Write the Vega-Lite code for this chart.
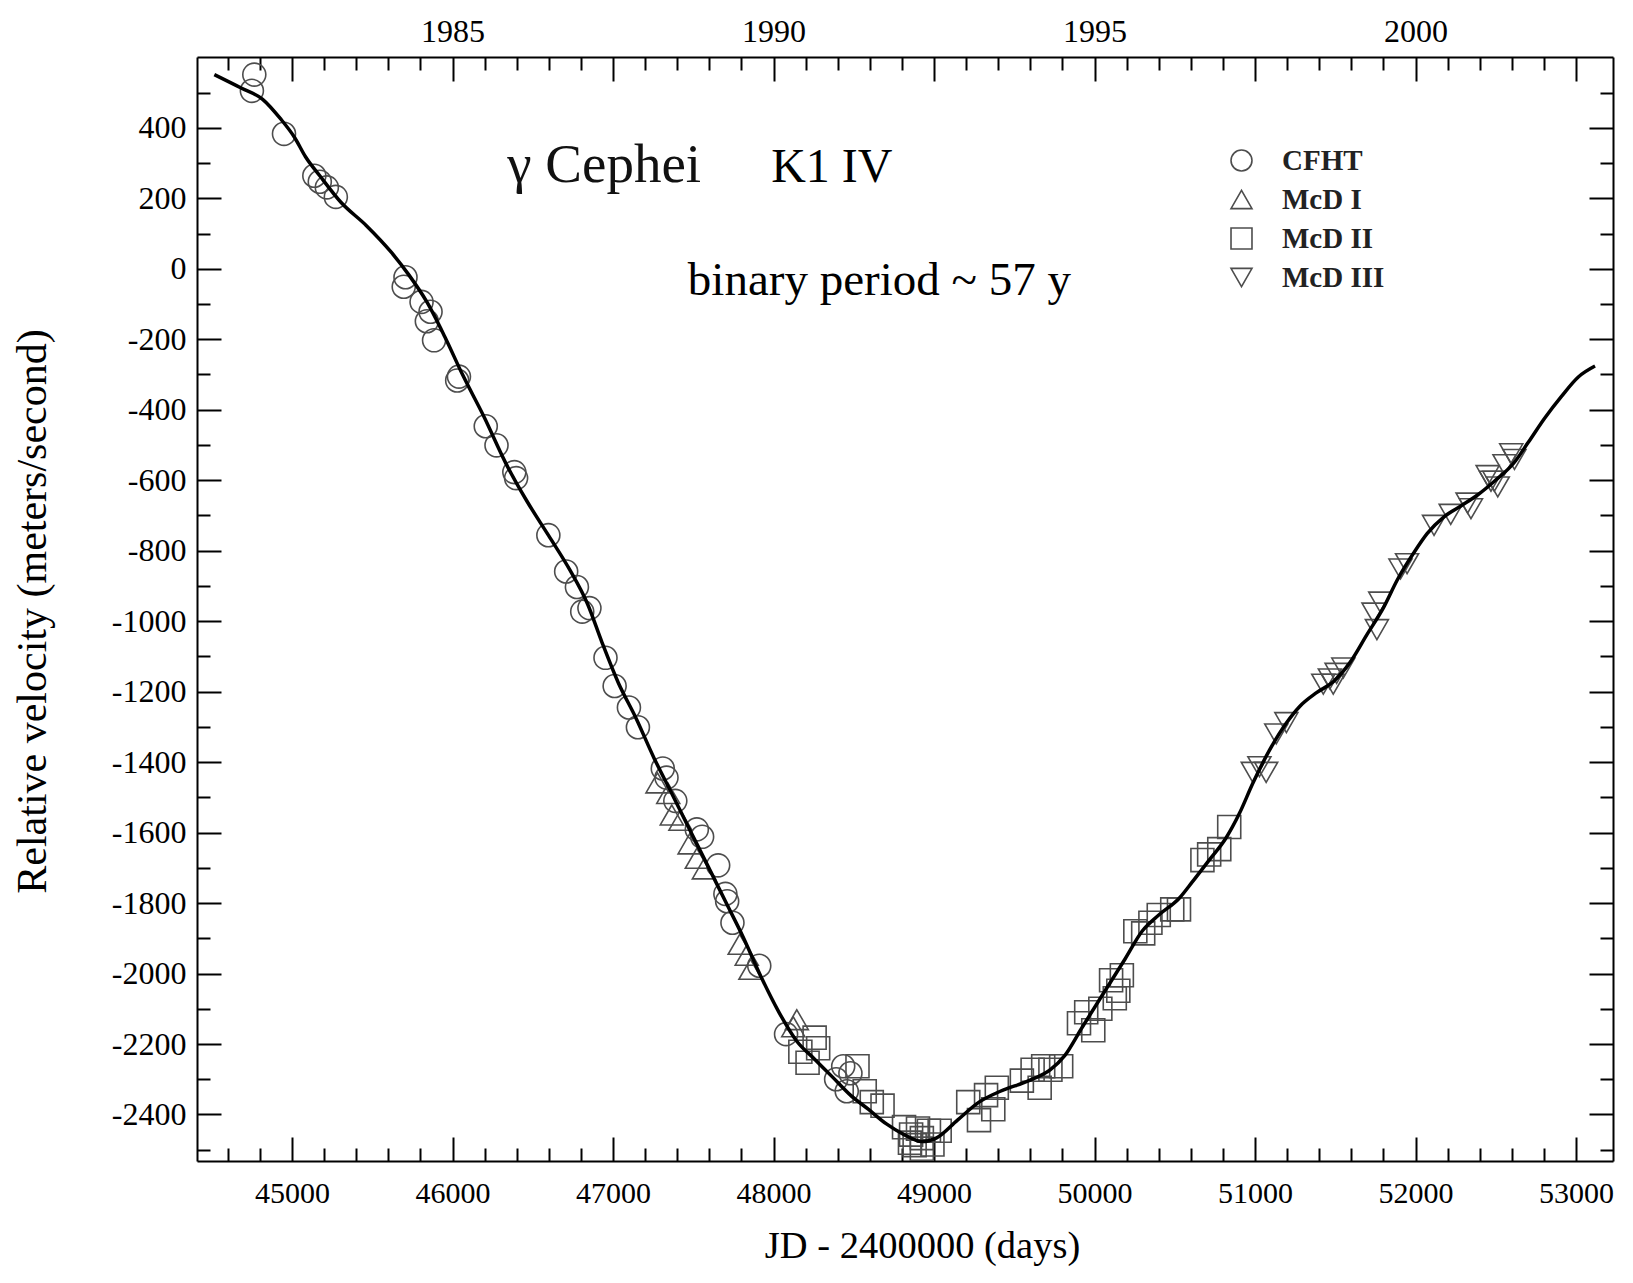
{
  "$schema": "https://vega.github.io/schema/vega-lite/v6.json",
  "width": 1416,
  "height": 1104,
  "autosize": {"type": "none"},
  "padding": {"left": 197, "top": 57, "right": 20, "bottom": 122},
  "background": "white",
  "config": {
    "view": {"stroke": null},
    "font": "Liberation Serif",
    "axis": {
      "domainColor": "black", "domainWidth": 2, "tickColor": "black", "tickWidth": 2,
      "labelColor": "black", "titleColor": "black", "grid": false,
      "labelFont": "Liberation Serif", "titleFont": "Liberation Serif", "titleFontWeight": "normal",
      "labelOverlap": false, "labelFlush": false
    }
  },
  "datasets": {
    "fit": [
      {"jd": 44516, "rv": 551}, {"jd": 44683, "rv": 513}, {"jd": 44817, "rv": 481}, {"jd": 44928, "rv": 426},
      {"jd": 45017, "rv": 372}, {"jd": 45084, "rv": 318}, {"jd": 45173, "rv": 264}, {"jd": 45306, "rv": 188},
      {"jd": 45462, "rv": 123}, {"jd": 45618, "rv": 47}, {"jd": 45729, "rv": -18}, {"jd": 45840, "rv": -94},
      {"jd": 45951, "rv": -192}, {"jd": 46063, "rv": -301}, {"jd": 46196, "rv": -420}, {"jd": 46330, "rv": -550},
      {"jd": 46463, "rv": -659}, {"jd": 46597, "rv": -756}, {"jd": 46730, "rv": -854}, {"jd": 46842, "rv": -952},
      {"jd": 46931, "rv": -1060}, {"jd": 47032, "rv": -1174}, {"jd": 47144, "rv": -1276}, {"jd": 47255, "rv": -1388},
      {"jd": 47366, "rv": -1489}, {"jd": 47477, "rv": -1591}, {"jd": 47589, "rv": -1693}, {"jd": 47700, "rv": -1795},
      {"jd": 47811, "rv": -1897}, {"jd": 47922, "rv": -2009}, {"jd": 48034, "rv": -2110}, {"jd": 48145, "rv": -2192},
      {"jd": 48256, "rv": -2243}, {"jd": 48368, "rv": -2294}, {"jd": 48479, "rv": -2345}, {"jd": 48590, "rv": -2385},
      {"jd": 48701, "rv": -2426}, {"jd": 48813, "rv": -2457}, {"jd": 48924, "rv": -2477}, {"jd": 49013, "rv": -2467},
      {"jd": 49146, "rv": -2416}, {"jd": 49280, "rv": -2365}, {"jd": 49413, "rv": -2334}, {"jd": 49591, "rv": -2304},
      {"jd": 49725, "rv": -2273}, {"jd": 49814, "rv": -2233}, {"jd": 49925, "rv": -2151}, {"jd": 50036, "rv": -2070},
      {"jd": 50191, "rv": -1958}, {"jd": 50296, "rv": -1880}, {"jd": 50400, "rv": -1834}, {"jd": 50526, "rv": -1787},
      {"jd": 50609, "rv": -1740}, {"jd": 50714, "rv": -1678}, {"jd": 50818, "rv": -1616}, {"jd": 50902, "rv": -1546},
      {"jd": 50986, "rv": -1460}, {"jd": 51090, "rv": -1366}, {"jd": 51195, "rv": -1289}, {"jd": 51278, "rv": -1242},
      {"jd": 51383, "rv": -1203}, {"jd": 51487, "rv": -1172}, {"jd": 51592, "rv": -1117}, {"jd": 51696, "rv": -1039},
      {"jd": 51801, "rv": -961}, {"jd": 51885, "rv": -884}, {"jd": 51989, "rv": -806}, {"jd": 52073, "rv": -751},
      {"jd": 52177, "rv": -704}, {"jd": 52282, "rv": -673}, {"jd": 52386, "rv": -642}, {"jd": 52491, "rv": -603},
      {"jd": 52616, "rv": -549}, {"jd": 52700, "rv": -494}, {"jd": 52804, "rv": -424}, {"jd": 52909, "rv": -362},
      {"jd": 53014, "rv": -307}, {"jd": 53118, "rv": -276}
    ],
    "obs": [
      {"set": "CFHT", "jd": 44765, "rv": 551}, {"set": "CFHT", "jd": 44750, "rv": 505}, {"set": "CFHT", "jd": 44950, "rv": 383},
      {"set": "CFHT", "jd": 45139, "rv": 264}, {"set": "CFHT", "jd": 45173, "rv": 247}, {"set": "CFHT", "jd": 45217, "rv": 231},
      {"set": "CFHT", "jd": 45273, "rv": 204}, {"set": "CFHT", "jd": 45707, "rv": -24}, {"set": "CFHT", "jd": 45696, "rv": -51},
      {"set": "CFHT", "jd": 45807, "rv": -94}, {"set": "CFHT", "jd": 45863, "rv": -122}, {"set": "CFHT", "jd": 45840, "rv": -149},
      {"set": "CFHT", "jd": 45885, "rv": -203}, {"set": "CFHT", "jd": 46040, "rv": -306}, {"set": "CFHT", "jd": 46029, "rv": -317},
      {"set": "CFHT", "jd": 46207, "rv": -447}, {"set": "CFHT", "jd": 46274, "rv": -501}, {"set": "CFHT", "jd": 46385, "rv": -577},
      {"set": "CFHT", "jd": 46396, "rv": -594}, {"set": "CFHT", "jd": 46597, "rv": -756}, {"set": "CFHT", "jd": 46708, "rv": -859},
      {"set": "CFHT", "jd": 46775, "rv": -903}, {"set": "CFHT", "jd": 46853, "rv": -963}, {"set": "CFHT", "jd": 46808, "rv": -973},
      {"set": "CFHT", "jd": 46953, "rv": -1104}, {"set": "CFHT", "jd": 47010, "rv": -1184}, {"set": "CFHT", "jd": 47099, "rv": -1245},
      {"set": "CFHT", "jd": 47155, "rv": -1301}, {"set": "CFHT", "jd": 47310, "rv": -1418}, {"set": "CFHT", "jd": 47333, "rv": -1444},
      {"set": "CFHT", "jd": 47388, "rv": -1510}, {"set": "CFHT", "jd": 47522, "rv": -1591}, {"set": "CFHT", "jd": 47555, "rv": -1612},
      {"set": "CFHT", "jd": 47655, "rv": -1693}, {"set": "CFHT", "jd": 47700, "rv": -1774}, {"set": "CFHT", "jd": 47711, "rv": -1795},
      {"set": "CFHT", "jd": 47744, "rv": -1856}, {"set": "CFHT", "jd": 47911, "rv": -1978}, {"set": "CFHT", "jd": 48078, "rv": -2172},
      {"set": "CFHT", "jd": 48434, "rv": -2263}, {"set": "CFHT", "jd": 48479, "rv": -2283}, {"set": "CFHT", "jd": 48456, "rv": -2334},
      {"set": "CFHT", "jd": 48390, "rv": -2300},
      {"set": "McD I", "jd": 47277, "rv": -1459}, {"set": "McD I", "jd": 47344, "rv": -1489}, {"set": "McD I", "jd": 47366, "rv": -1550},
      {"set": "McD I", "jd": 47420, "rv": -1565}, {"set": "McD I", "jd": 47477, "rv": -1632}, {"set": "McD I", "jd": 47522, "rv": -1673},
      {"set": "McD I", "jd": 47566, "rv": -1703}, {"set": "McD I", "jd": 47789, "rv": -1917}, {"set": "McD I", "jd": 47833, "rv": -1948},
      {"set": "McD I", "jd": 47856, "rv": -1988}, {"set": "McD I", "jd": 48145, "rv": -2131}, {"set": "McD I", "jd": 48123, "rv": -2151},
      {"set": "McD II", "jd": 48256, "rv": -2182}, {"set": "McD II", "jd": 48278, "rv": -2212}, {"set": "McD II", "jd": 48167, "rv": -2222},
      {"set": "McD II", "jd": 48212, "rv": -2253}, {"set": "McD II", "jd": 48523, "rv": -2263}, {"set": "McD II", "jd": 48568, "rv": -2334},
      {"set": "McD II", "jd": 48612, "rv": -2365}, {"set": "McD II", "jd": 48679, "rv": -2375}, {"set": "McD II", "jd": 48813, "rv": -2436},
      {"set": "McD II", "jd": 48857, "rv": -2457}, {"set": "McD II", "jd": 48924, "rv": -2467}, {"set": "McD II", "jd": 48968, "rv": -2446},
      {"set": "McD II", "jd": 48879, "rv": -2487}, {"set": "McD II", "jd": 49035, "rv": -2446}, {"set": "McD II", "jd": 48924, "rv": -2497},
      {"set": "McD II", "jd": 48850, "rv": -2480}, {"set": "McD II", "jd": 48990, "rv": -2485}, {"set": "McD II", "jd": 48900, "rv": -2440},
      {"set": "McD II", "jd": 49213, "rv": -2365}, {"set": "McD II", "jd": 49280, "rv": -2416}, {"set": "McD II", "jd": 49324, "rv": -2345},
      {"set": "McD II", "jd": 49391, "rv": -2324}, {"set": "McD II", "jd": 49369, "rv": -2385}, {"set": "McD II", "jd": 49547, "rv": -2304},
      {"set": "McD II", "jd": 49614, "rv": -2273}, {"set": "McD II", "jd": 49680, "rv": -2263}, {"set": "McD II", "jd": 49725, "rv": -2273},
      {"set": "McD II", "jd": 49792, "rv": -2263}, {"set": "McD II", "jd": 49658, "rv": -2324}, {"set": "McD II", "jd": 49903, "rv": -2141},
      {"set": "McD II", "jd": 49948, "rv": -2110}, {"set": "McD II", "jd": 49992, "rv": -2161}, {"set": "McD II", "jd": 50036, "rv": -2100},
      {"set": "McD II", "jd": 50103, "rv": -2019}, {"set": "McD II", "jd": 50148, "rv": -2049}, {"set": "McD II", "jd": 50126, "rv": -2070},
      {"set": "McD II", "jd": 50170, "rv": -2005}, {"set": "McD II", "jd": 50254, "rv": -1880}, {"set": "McD II", "jd": 50303, "rv": -1886},
      {"set": "McD II", "jd": 50348, "rv": -1856}, {"set": "McD II", "jd": 50400, "rv": -1834}, {"set": "McD II", "jd": 50484, "rv": -1818},
      {"set": "McD II", "jd": 50526, "rv": -1818}, {"set": "McD II", "jd": 50672, "rv": -1678}, {"set": "McD II", "jd": 50714, "rv": -1662},
      {"set": "McD II", "jd": 50777, "rv": -1647}, {"set": "McD II", "jd": 50839, "rv": -1584},
      {"set": "McD III", "jd": 50986, "rv": -1429}, {"set": "McD III", "jd": 51027, "rv": -1413}, {"set": "McD III", "jd": 51069, "rv": -1429},
      {"set": "McD III", "jd": 51132, "rv": -1320}, {"set": "McD III", "jd": 51195, "rv": -1288}, {"set": "McD III", "jd": 51425, "rv": -1179},
      {"set": "McD III", "jd": 51466, "rv": -1164}, {"set": "McD III", "jd": 51508, "rv": -1148}, {"set": "McD III", "jd": 51550, "rv": -1133},
      {"set": "McD III", "jd": 51487, "rv": -1179}, {"set": "McD III", "jd": 51738, "rv": -977}, {"set": "McD III", "jd": 51780, "rv": -946},
      {"set": "McD III", "jd": 51759, "rv": -1024}, {"set": "McD III", "jd": 51906, "rv": -852}, {"set": "McD III", "jd": 51947, "rv": -837},
      {"set": "McD III", "jd": 52115, "rv": -728}, {"set": "McD III", "jd": 52219, "rv": -697}, {"set": "McD III", "jd": 52324, "rv": -665},
      {"set": "McD III", "jd": 52345, "rv": -681}, {"set": "McD III", "jd": 52449, "rv": -587}, {"set": "McD III", "jd": 52470, "rv": -603},
      {"set": "McD III", "jd": 52491, "rv": -603}, {"set": "McD III", "jd": 52512, "rv": -619}, {"set": "McD III", "jd": 52554, "rv": -556},
      {"set": "McD III", "jd": 52596, "rv": -525}, {"set": "McD III", "jd": 52616, "rv": -541}
    ]
  },
  "layer": [
    {
      "data": {"name": "obs"},
      "mark": {"type": "point", "filled": false, "size": 530, "strokeWidth": 1.6, "color": "#4d4d4d", "opacity": 1},
      "encoding": {
        "x": {
          "field": "jd", "type": "quantitative",
          "scale": {"domain": [44408, 53230], "nice": false, "zero": false},
          "axis": {
            "orient": "top", "title": null,
            "values": [44600,44800,45000,45200,45400,45600,45800,46000,46200,46400,46600,46800,47000,47200,47400,47600,47800,48000,48200,48400,48600,48800,49000,49200,49400,49600,49800,50000,50200,50400,50600,50800,51000,51200,51400,51600,51800,52000,52200,52400,52600,52800,53000],
            "labelExpr": "datum.value === 46000 ? '1985' : datum.value === 48000 ? '1990' : datum.value === 50000 ? '1995' : datum.value === 52000 ? '2000' : ''",
            "tickSize": {"condition": {"test": "datum.value % 1000 === 0", "value": -24}, "value": -13},
            "labelFontSize": 32, "labelPadding": 33
          }
        },
        "y": {
          "field": "rv", "type": "quantitative",
          "scale": {"domain": [-2532, 601], "nice": false, "zero": false},
          "axis": {
            "orient": "right", "title": null, "labels": false,
            "values": [-2500,-2400,-2300,-2200,-2100,-2000,-1900,-1800,-1700,-1600,-1500,-1400,-1300,-1200,-1100,-1000,-900,-800,-700,-600,-500,-400,-300,-200,-100,0,100,200,300,400,500],
            "tickSize": {"condition": {"test": "datum.value % 200 === 0", "value": -24}, "value": -13}
          }
        },
        "shape": {
          "field": "set", "type": "nominal",
          "scale": {"domain": ["CFHT", "McD I", "McD II", "McD III"], "range": ["circle", "triangle-up", "square", "triangle-down"]},
          "legend": {
            "title": null, "orient": "none", "legendX": 1030, "legendY": 89, "padding": 0,
            "labelFontSize": 29, "labelFont": "Liberation Serif", "labelFontWeight": "bold", "labelColor": "#222",
            "symbolSize": 440, "symbolStrokeWidth": 1.6, "symbolStrokeColor": "#4d4d4d", "symbolFillColor": "transparent",
            "rowPadding": 9, "labelOffset": 26
          }
        }
      }
    },
    {
      "data": {"name": "fit"},
      "mark": {"type": "line", "color": "black", "strokeWidth": 3.5, "interpolate": "monotone"},
      "encoding": {
        "x": {
          "field": "jd", "type": "quantitative",
          "scale": {"domain": [44408, 53230], "nice": false, "zero": false},
          "axis": {
            "orient": "bottom", "title": "JD - 2400000 (days)",
            "values": [44600,44800,45000,45200,45400,45600,45800,46000,46200,46400,46600,46800,47000,47200,47400,47600,47800,48000,48200,48400,48600,48800,49000,49200,49400,49600,49800,50000,50200,50400,50600,50800,51000,51200,51400,51600,51800,52000,52200,52400,52600,52800,53000],
            "labelExpr": "datum.value % 1000 === 0 ? '' + datum.value : ''",
            "tickSize": {"condition": {"test": "datum.value % 1000 === 0", "value": -24}, "value": -13},
            "labelFontSize": 30, "labelPadding": 41,
            "titleFontSize": 38.5, "titleX": 725, "titleY": 96, "titleBaseline": "alphabetic", "titleAlign": "center"
          }
        },
        "y": {
          "field": "rv", "type": "quantitative",
          "scale": {"domain": [-2532, 601], "nice": false, "zero": false},
          "axis": {
            "orient": "left", "title": "Relative velocity (meters/second)",
            "values": [-2500,-2400,-2300,-2200,-2100,-2000,-1900,-1800,-1700,-1600,-1500,-1400,-1300,-1200,-1100,-1000,-900,-800,-700,-600,-500,-400,-300,-200,-100,0,100,200,300,400,500],
            "labelExpr": "datum.value % 200 === 0 ? '' + datum.value : ''",
            "tickSize": {"condition": {"test": "datum.value % 200 === 0", "value": -24}, "value": -13},
            "labelFontSize": 32, "labelPadding": 35,
            "titleFontSize": 42, "titleAngle": -90, "titleX": -152, "titleY": 554, "titleBaseline": "alphabetic", "titleAlign": "center"
          }
        }
      }
    },
    {
      "data": {"values": [{"jd": 46341, "rv": 246, "label": "γ Cephei"}]},
      "mark": {"type": "text", "align": "left", "baseline": "alphabetic", "fontSize": 55, "font": "Liberation Serif", "color": "#111"},
      "encoding": {
        "x": {"field": "jd", "type": "quantitative", "scale": {"domain": [44408, 53230], "nice": false, "zero": false}, "axis": null},
        "y": {"field": "rv", "type": "quantitative", "scale": {"domain": [-2532, 601], "nice": false, "zero": false}, "axis": null},
        "text": {"field": "label"}
      }
    },
    {
      "data": {"values": [{"jd": 47985, "rv": 246, "label": "K1 IV"}]},
      "mark": {"type": "text", "align": "left", "baseline": "alphabetic", "fontSize": 48, "font": "Liberation Serif", "color": "black"},
      "encoding": {
        "x": {"field": "jd", "type": "quantitative", "scale": {"domain": [44408, 53230], "nice": false, "zero": false}, "axis": null},
        "y": {"field": "rv", "type": "quantitative", "scale": {"domain": [-2532, 601], "nice": false, "zero": false}, "axis": null},
        "text": {"field": "label"}
      }
    },
    {
      "data": {"values": [{"jd": 47466, "rv": -75, "label": "binary period ~ 57 y"}]},
      "mark": {"type": "text", "align": "left", "baseline": "alphabetic", "fontSize": 47, "font": "Liberation Serif", "color": "black"},
      "encoding": {
        "x": {"field": "jd", "type": "quantitative", "scale": {"domain": [44408, 53230], "nice": false, "zero": false}, "axis": null},
        "y": {"field": "rv", "type": "quantitative", "scale": {"domain": [-2532, 601], "nice": false, "zero": false}, "axis": null},
        "text": {"field": "label"}
      }
    }
  ],
  "resolve": {"axis": {"x": "independent", "y": "independent"}}
}
